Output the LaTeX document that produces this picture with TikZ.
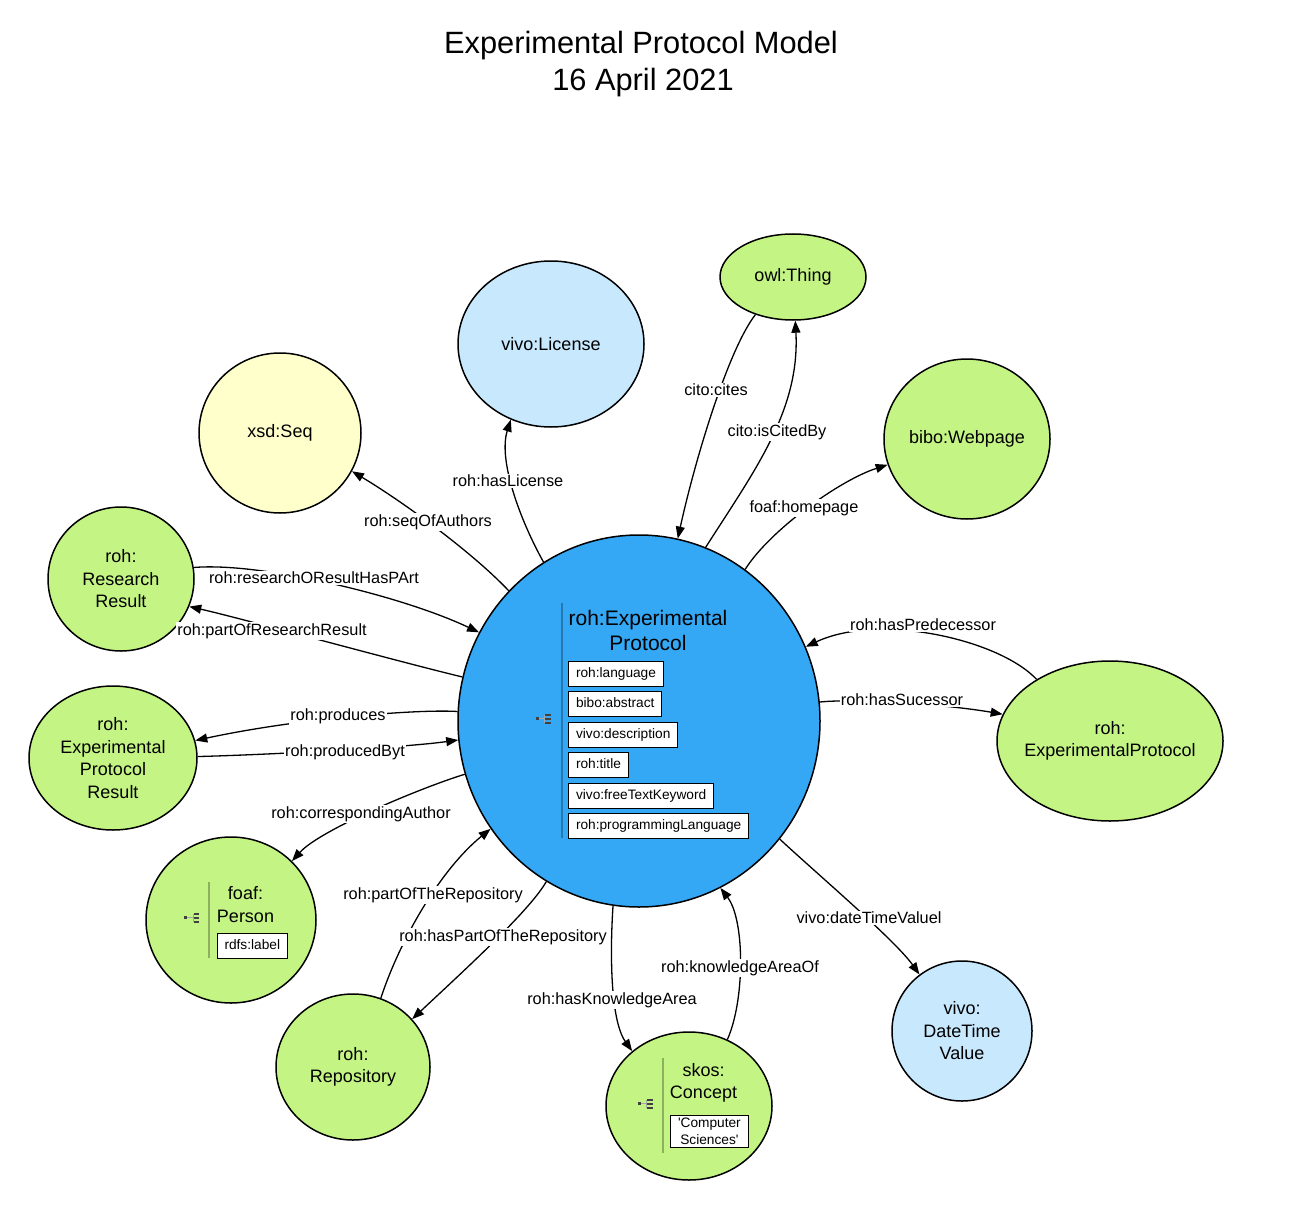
\documentclass[tikz,border=0pt]{standalone}
\usepackage{fontspec}
\setmainfont{Liberation Sans}
\usetikzlibrary{shapes.geometric,arrows.meta}
\definecolor{cgreen}{HTML}{C4F584}
\definecolor{cblue}{HTML}{34A7F5}
\definecolor{clight}{HTML}{C7E8FD}
\definecolor{cyellow}{HTML}{FFFFCC}
\newcommand\propicon[1]{%
  \begin{scope}[shift={(#1)}]
    \fill[black!75] (-7.5,-2.3) rectangle (-4.2,1);
    \draw[black!35, line width=.6pt] (-4.2,-0.6) -- (2,-0.6);
    \draw[black!35, line width=.6pt] (1.5,-4) -- (1.5,3.7);
    \fill[black!75] (2,-5) rectangle (7.7,-3);
    \fill[black!75] (2,-1.5) rectangle (7.7,0.5);
    \fill[black!75] (2,2.5) rectangle (7.7,4.5);
  \end{scope}}
\tikzset{
  cls/.style={ellipse, draw=black, line width=1.5pt, inner sep=0pt},
  ntext/.style={align=center, font=\fontsize{18}{22.5}\selectfont},
  lbl/.style={fill=white, inner sep=1pt, font=\fontsize{16.3}{19}\selectfont},
  conn/.style={line width=1.3pt, -{Triangle[length=12pt,width=9pt]}},
  prop/.style={draw=black, fill=white, line width=1pt, anchor=west, inner xsep=7.5pt,
    inner ysep=0pt, minimum height=25pt, text height=10pt, text depth=3pt,
    font=\fontsize{13.7}{17}\selectfont},
  sepline/.style={line width=2pt, black, opacity=.28},
}
\begin{document}
\begin{tikzpicture}[x=1pt,y=-1pt]
\useasboundingbox (0,0) rectangle (1289,1206);
% title
\node[anchor=base, font=\fontsize{30.8}{36}\selectfont] (t1) at (641,54) {Experimental Protocol Model};
\node[anchor=base, font=\fontsize{30.8}{36}\selectfont] (t2) at (643,91) {16 April 2021};

% class nodes
\node[cls, fill=cgreen, minimum width=146pt, minimum height=86pt,
  label={[ntext]center:{owl:Thing}}] (owl) at (793,277) {};
\node[cls, fill=clight, minimum width=186pt, minimum height=166pt,
  label={[ntext]center:{vivo:License}}] (lic) at (551,344) {};
\node[cls, fill=cyellow, minimum width=162pt, minimum height=160pt,
  label={[ntext]center:{xsd:Seq}}] (xsd) at (280,433) {};
\node[cls, fill=cgreen, minimum width=166pt, minimum height=160pt,
  label={[ntext]center:{bibo:Webpage}}] (web) at (967,439) {};
\node[cls, fill=cgreen, minimum width=146pt, minimum height=144pt,
  label={[ntext]center:{roh:\\Research\\Result}}] (rr) at (121,579) {};
\node[cls, fill=cblue, minimum width=362pt, minimum height=372pt] (C) at (639,721) {};
\node[cls, fill=cgreen, minimum width=226pt, minimum height=160pt,
  label={[ntext]center:{roh:\\ExperimentalProtocol}}] (rep) at (1110,741) {};
\node[cls, fill=cgreen, minimum width=168pt, minimum height=144pt,
  label={[ntext]center:{roh:\\Experimental\\Protocol\\Result}}] (epr) at (113,758) {};
\node[cls, fill=cgreen, minimum width=170pt, minimum height=166pt] (per) at (231,920) {};
\node[cls, fill=cgreen, minimum width=154pt, minimum height=146pt,
  label={[ntext]center:{roh:\\Repository}}] (repo) at (353,1067) {};
\node[cls, fill=cgreen, minimum width=166pt, minimum height=148pt] (skos) at (689,1106) {};
\node[cls, fill=clight, minimum width=140pt, minimum height=140pt,
  label={[ntext]center:{vivo:\\DateTime\\Value}}] (dt) at (962,1031) {};

% central node content
\draw[sepline] (561.5,603) -- (561.5,838);
\propicon{543,719}
\node[align=center, font=\fontsize{21}{25}\selectfont] (ctitle) at (648,630) {roh:Experimental\\Protocol};
\node[prop] (p1) at (568,673.5) {roh:language};
\node[prop] (p2) at (568,704) {bibo:abstract};
\node[prop] (p3) at (568,734.5) {vivo:description};
\node[prop] (p4) at (568,765) {roh:title};
\node[prop] (p5) at (568,795.5) {vivo:freeTextKeyword};
\node[prop] (p6) at (568,825.5) {roh:programmingLanguage};

% person content
\draw[sepline] (209.3,882) -- (209.3,958);
\propicon{191.5,918}
\node[ntext, font=\fontsize{18}{23}\selectfont] (pert) at (245.5,905) {foaf:\\Person};
\node[prop] (perl) at (216.5,945.5) {rdfs:label};

% skos content
\draw[sepline] (663.3,1058) -- (663.3,1153);
\propicon{645,1104}
\node[ntext, font=\fontsize{18}{22}\selectfont] (skost) at (703.5,1083) {skos:\\Concept};
\node[prop, align=center, text height=, text depth=, inner ysep=3pt, font=\fontsize{13.7}{17}\selectfont]
  (skosl) at (670,1131.5) {\textquotesingle Computer\\Sciences\textquotesingle};

% connectors
\draw[conn] (owl.225) .. controls (728,350) and (695,460) .. (C.78)
  node[lbl] (l1) at (716,390) {cito:cites};
\draw[conn] (C.69) .. controls (755,470) and (800,410) .. (owl.273)
  node[lbl] (l2) at (777,432) {cito:isCitedBy};
\draw[conn] (C.121) .. controls (520,520) and (498,460) .. (lic.242)
  node[lbl] (l3) at (508,481) {roh:hasLicense};
\draw[conn] (C.135) .. controls (470,550) and (400,500) .. (xsd.-28)
  node[lbl] (l4) at (428,522) {roh:seqOfAuthors};
\draw[conn] (C.55.5) .. controls (770,530) and (840,480) .. (web.198)
  node[lbl] (l5) at (804,508) {foaf:homepage};
\draw[conn] (rr.9) .. controls (260,562) and (400,595) .. (C.151)
  node[lbl] (l6) at (314,578) {roh:researchOResultHasPArt};
\draw[conn] (C.166) .. controls (400,662) and (240,618) .. (rr.-22)
  node[lbl] (l7) at (272,631) {roh:partOfResearchResult};
\draw[conn] (rep.140) .. controls (1000,640) and (880,612) .. (C.24.6)
  node[lbl] (l8) at (923,625) {roh:hasPredecessor};
\draw[conn] (C.6.3) .. controls (860,698) and (950,705) .. (rep.166)
  node[lbl] (l9) at (902,700) {roh:hasSucessor};
\draw[conn] (C.177) .. controls (420,709) and (300,718) .. (epr.12)
  node[lbl] (l10) at (338,716) {roh:produces};
\draw[conn] (epr.1) .. controls (260,755) and (400,748) .. (C.186.7)
  node[lbl] (l11) at (345,752) {roh:producedByt};
\draw[conn] (C.197) .. controls (420,788) and (320,830) .. (per.44.5)
  node[lbl] (l12) at (361,814) {roh:correspondingAuthor};
\draw[conn] (repo.68.6) .. controls (400,940) and (440,870) .. (C.216)
  node[lbl] (l13) at (433,895) {roh:partOfTheRepository};
\draw[conn] (C.240.6) .. controls (530,910) and (470,965) .. (repo.39)
  node[lbl] (l14) at (503,937) {roh:hasPartOfTheRepository};
\draw[conn] (C.262.6) .. controls (610,950) and (610,1020) .. (skos.136)
  node[lbl] (l15) at (612,1000) {roh:hasKnowledgeArea};
\draw[conn] (skos.60.7) .. controls (745,1000) and (745,920) .. (C.296.2)
  node[lbl] (l16) at (740,968) {roh:knowledgeAreaOf};
\draw[conn] (C.-40.8) .. controls (815,872) and (895,940) .. (dt.127.2)
  node[lbl] (l17) at (869,918) {vivo:dateTimeValuel};
\end{tikzpicture}
\end{document}
